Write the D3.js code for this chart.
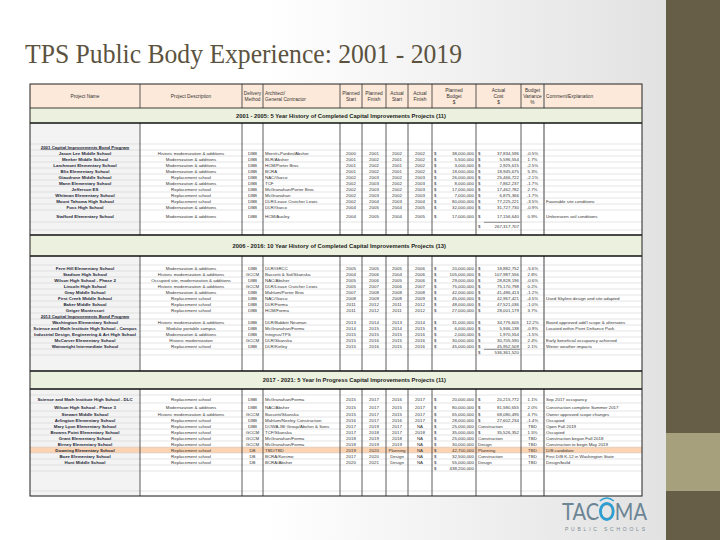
<!DOCTYPE html>
<meta charset="utf-8">
<style>
body { margin: 0; background: #fff; }
svg text { font-family: "Liberation Sans", Arial, sans-serif; }
</style>
<body>
<script src="https://cdn.jsdelivr.net/npm/d3@7"></script>
<script>

// ---- data ----
const sectionTitles = [
  "2001 - 2005: 5 Year History of Completed Capital Improvements Projects (11)",
  "2006 - 2016: 10 Year History of Completed Capital Improvements Projects (13)",
  "2017 - 2021: 5 Year In Progress Capital Improvements Projects (11)"
];
const sectionSizes = [11, 13, 11];
const bondLabels = ["2001 Capital Improvements Bond Program", "2013 Capital Improvements Bond Program"];
const bondBefore = [0, 19];
const sectionTotals = [267317707, 536361520, 438200000];
const totalColumn = ["cost", "cost", "budget"];

const projectNames = [
  "Jason Lee Middle School", "Meeker Middle School", "Larchmont Elementary School", "Blix Elementary School",
  "Giaudrone Middle School", "Mann Elementary School", "Jefferson ES", "Whitman Elementary School",
  "Mount Tahoma High School", "Foss High School", "Stafford Elementary School",
  "Fern Hill Elementary School", "Stadium High School", "Wilson High School - Phase 2", "Lincoln High School",
  "Gray Middle School", "First Creek Middle School", "Baker Middle School", "Geiger Montessori",
  "Washington Elementary School", "Science and Math Institute High School - Campus",
  "Industrial Design, Engineering & Art High School", "McCarver Elementary School", "Wainwright Intermediate School",
  "Science and Math Institute High School - DLC", "Wilson High School - Phase 3", "Stewart Middle School",
  "Arlington Elementary School", "Mary Lyon Elementary School", "Browns Point Elementary School",
  "Grant Elementary School", "Birney Elementary School", "Downing Elementary School", "Boze Elementary School",
  "Hunt Middle School"
];
const descriptions = [
  "Historic modernization & additions", "Modernization & additions", "Modernization & additions", "Modernization & additions",
  "Replacement school", "Modernization & additions", "Replacement school", "Replacement school",
  "Replacement school", "Modernization & additions", "Modernization & additions",
  "Modernization & additions", "Historic modernization & additions", "Occupied site, modernization & additions",
  "Historic modernization & additions", "Modernization & additions", "Replacement school", "Replacement school",
  "Replacement school", "Historic modernization & additions", "Modular portable campus", "Modernization & additions",
  "Historic modernization", "Replacement school",
  "Replacement school", "Modernization & additions", "Historic modernization & additions", "Replacement school",
  "Replacement school", "Replacement school", "Replacement school", "Replacement school", "Replacement school",
  "Replacement school", "Replacement school"
];
const methods = [
  "DBB", "DBB", "DBB", "DBB", "DBB", "DBB", "DBB", "DBB", "DBB", "DBB", "DBB",
  "DBB", "GCCM", "DBB", "GCCM", "DBB", "DBB", "DBB", "DBB", "DBB", "DBB", "DBB", "GCCM", "DBB",
  "DBB", "DBB", "GCCM", "DBB", "DBB", "GCCM", "GCCM", "GCCM", "DB", "DB", "DB"
];
const contractors = [
  "Merritt+Pardini/Absher", "BLR/Absher", "HCM/Porter Bros", "BCRA", "NAC/Garco", "TCF",
  "McGranahan/Porter Bros", "McGranahan", "DLR/Lease Crutcher Lewis", "DLR/Garco", "HCM/Ausley",
  "DLR/GRCC", "Bassetti & Sol/Skanska", "NAC/Absher", "DLR/Lease Crutcher Lewis", "Mahlum/Porter Bros",
  "NAC/Garco", "DLR/Forma", "HCM/Forma", "DLR/Babbitt Neuman", "McGranahan/Forma", "Integrus/TPS",
  "DLR/Skanska", "DLR/Kirtley",
  "McGranahan/Forma", "NAC/Absher", "Bassetti/Skanska", "Mahlum/Neeley Construction",
  "DOWA-IBI Group/Absher & Sons", "TCF/Skanska", "McGranahan/Forma", "McGranahan/Forma", "TBD/TBD",
  "BCRA/Korsmo", "BCRA/Absher"
];
const plannedStart = [2000, 2001, 2001, 2001, 2002, 2002, 2002, 2002, 2002, 2004, 2004,
  2005, 2004, 2005, 2005, 2007, 2008, 2011, 2011, 2013, 2014, 2015, 2015, 2015,
  2015, 2015, 2015, 2016, 2017, 2017, 2018, 2018, 2019, 2017, 2020];
const plannedFinish = [2001, 2002, 2002, 2002, 2003, 2003, 2003, 2003, 2004, 2005, 2005,
  2005, 2006, 2006, 2007, 2008, 2009, 2012, 2012, 2014, 2015, 2015, 2016, 2016,
  2017, 2017, 2017, 2017, 2019, 2018, 2019, 2019, 2020, 2020, 2021];
const actualStart = [2002, 2001, 2001, 2001, 2002, 2002, 2002, 2002, 2003, 2004, 2004,
  2005, 2004, 2005, 2006, 2008, 2008, 2011, 2011, 2013, 2014, 2015, 2015, 2015,
  2016, 2015, 2015, 2016, 2017, 2017, 2018, 2019, "Planning", "Design", "Design"];
const actualFinish = [2002, 2002, 2002, 2002, 2003, 2003, 2003, 2003, 2004, 2005, 2005,
  2006, 2006, 2006, 2007, 2008, 2009, 2012, 2012, 2014, 2015, 2016, 2016, 2016,
  2017, 2017, 2017, 2017, "NA", 2018, "NA", "NA", "NA", "NA", "NA"];
const plannedBudget = [38000000, 5500000, 3000000, 18000000, 26000000, 8000000, 17000000, 7000000, 80000000, 32000000, 17000000,
  20000000, 105000000, 29000000, 75000000, 42000000, 45000000, 48000000, 27000000, 31000000, 6000000, 2000000, 30000000, 45000000,
  20000000, 80000000, 65000000, 28000000, 25000000, 35000000, 25000000, 30000000, 42700000, 32500000, 55000000];
const actualCost = [37834596, 5596554, 2925615, 18945675, 25466722, 7862237, 17462782, 6875366, 77225221, 31727730, 17156640,
  18882752, 107987556, 28828196, 75170798, 41486413, 42967421, 47521036, 28001179, 34776605, 5946138, 1970554, 30705590, 45952509,
  20215772, 81580655, 68080495, 27602234, "Construction", 35526352, "Construction", "Design", "Planning", "Construction", "Design"];
const variance = [-0.5, 1.7, -2.5, 5.3, -2.1, -1.7, 2.7, -1.7, -3.5, -0.9, 0.9,
  -5.6, 2.8, -0.6, 0.2, -1.2, -4.5, -1.0, 3.7, 12.2, -0.9, -1.5, 2.4, 2.1,
  1.1, 2.0, 4.7, -1.4, "TBD", 1.5, "TBD", "TBD", "TBD", "TBD", "TBD"];
const comments = ["", "", "", "", "", "", "", "", "Favorable site conditions", "", "Unforeseen soil conditions",
  "", "", "", "", "", "Used Skyline design and site adapted", "", "", "Board approved add'l scope & alternates",
  "Located within Point Defiance Park", "", "Early beneficial occupancy achieved", "Winter weather impacts",
  "Sep 2017 occupancy", "Construction complete Summer 2017", "Owner approved scope changes", "Occupied",
  "Open Fall 2019", "Occupied", "Construction began Fall 2018", "Construction to begin May 2019",
  "D/B candidate", "First D/B K-12 in Washington State", "Design/build"];
const highlightRow = 32;

const colKeys = ["name", "desc", "method", "arch", "ps", "pf", "as", "af", "budget", "cost", "variance", "comment"];
const headerLabels = [["Project Name"], ["Project Description"], ["Delivery", "Method"], ["Architect/", "General Contractor"],
  ["Planned", "Start"], ["Planned", "Finish"], ["Actual", "Start"], ["Actual", "Finish"],
  ["Planned", "Budget", "$"], ["Actual", "Cost", "$"], ["Budget", "Variance", "%"], ["Comment/Explanation"]];

// ---- layout ----
const W = 720, H = 540;
const colEdges = [30, 140, 242, 263, 340, 362, 386, 408, 432, 476, 521, 544, 642];
const tableLeft = colEdges[0], tableRight = colEdges[colEdges.length - 1];
const headTop = 84, headH = 24;

const x = d3.scaleOrdinal().domain(colKeys).range(colEdges.slice(0, -1));
const w = d3.scaleOrdinal().domain(colKeys).range(colKeys.map((k, i) => colEdges[i + 1] - colEdges[i]));
const fmt = d3.format(",");

const bandH = [15, 21, 18], leadH = [21, 9, 6], trailH = [5, 16, 0];
const tallRows = {10: 12, 24: 8, 25: 8};

let yy = headTop + headH, idx = 0;
const layout = [];
sectionTitles.forEach((t, s) => {
  layout.push({type: "band", s, y: yy, h: bandH[s]}); yy += bandH[s];
  layout.push({type: "blank", y: yy, h: leadH[s]}); yy += leadH[s];
  for (let k = 0; k < sectionSizes[s]; k++, idx++) {
    const b = bondBefore.indexOf(idx);
    if (b >= 0) { layout.push({type: "bond", text: bondLabels[b], y: yy, h: 6}); yy += 6; }
    const h = tallRows[idx] || 6;
    layout.push({type: "project", i: idx, y: yy, h}); yy += h;
  }
  const th = s === 0 ? 8 : 6;
  layout.push({type: "total", s, y: yy, h: th}); yy += th;
  if (trailH[s]) { layout.push({type: "blank", y: yy, h: trailH[s]}); yy += trailH[s]; }
});
layout.push({type: "blank", y: yy, h: 20}); yy += 20;
layout.push({type: "blank", y: yy, h: 5}); yy += 5;
const tableBottom = yy;

const svg = d3.select("body").append("svg")
  .attr("width", W).attr("height", H);

// background gradient + theme bar
const defs = svg.append("defs");
const grad = defs.append("linearGradient").attr("id", "bg").attr("x1", 0).attr("x2", 1).attr("y1", 0).attr("y2", 0);
grad.append("stop").attr("offset", 0).attr("stop-color", "#ffffff");
grad.append("stop").attr("offset", 0.4).attr("stop-color", "#ffffff");
grad.append("stop").attr("offset", 1).attr("stop-color", "#e2e2e2");
svg.append("rect").attr("width", 666).attr("height", H).attr("fill", "url(#bg)");
svg.append("rect").attr("x", 666).attr("width", W - 666).attr("height", H).attr("fill", "#675e48");
svg.append("rect").attr("x", 666).attr("y", 433).attr("width", W - 666).attr("height", 58).attr("fill", "#a6a07c");

svg.append("text")
  .attr("x", 25).attr("y", 63)
  .style("font-family", "'Liberation Serif', 'DejaVu Serif', serif")
  .style("font-size", "27px")
  .attr("fill", "#5b5340")
  .attr("textLength", 437).attr("lengthAdjust", "spacingAndGlyphs")
  .text("TPS Public Body Experience: 2001 - 2019");

const tbl = svg.append("g");

// cell backgrounds
tbl.append("rect").attr("x", tableLeft).attr("y", headTop).attr("width", tableRight - tableLeft).attr("height", tableBottom - headTop).attr("fill", "#fff");
tbl.append("rect").attr("x", tableLeft).attr("y", headTop).attr("width", tableRight - tableLeft).attr("height", headH).attr("fill", "#fde9d9");
tbl.selectAll(".namebg").data(layout.filter(d => d.type !== "band"))
  .enter().append("rect")
  .attr("x", x("name")).attr("y", d => d.y).attr("width", w("name")).attr("height", d => d.h)
  .attr("fill", "#f3f3f3");
tbl.selectAll(".hl").data(layout.filter(d => d.type === "project" && d.i === highlightRow))
  .enter().append("rect")
  .attr("x", tableLeft).attr("y", d => d.y).attr("width", tableRight - tableLeft).attr("height", d => d.h)
  .attr("fill", "#fbd4b4");

// row rules
tbl.selectAll(".rule").data(layout.filter(d => d.type !== "band"))
  .enter().append("line")
  .attr("x1", tableLeft).attr("x2", tableRight)
  .attr("y1", d => d.y + d.h).attr("y2", d => d.y + d.h)
  .attr("stroke", "#c9c9c9").attr("stroke-width", 0.5);

// column rules
tbl.selectAll(".vrule").data(colKeys.slice(1))
  .enter().append("line")
  .attr("x1", d => x(d)).attr("x2", d => x(d))
  .attr("y1", headTop).attr("y2", tableBottom)
  .attr("stroke", d => d === "comment" ? "#777" : "#333")
  .attr("stroke-width", d => d === "comment" ? 1.4 : 0.8);

// section bands
const bands = layout.filter(d => d.type === "band");
tbl.selectAll(".band").data(bands).enter().append("rect")
  .attr("x", tableLeft).attr("y", d => d.y).attr("width", tableRight - tableLeft).attr("height", d => d.h)
  .attr("fill", "#ebf1de");
tbl.selectAll(".bandtop").data(bands).enter().append("line")
  .attr("x1", tableLeft).attr("x2", tableRight).attr("y1", d => d.y).attr("y2", d => d.y)
  .attr("stroke", "#111").attr("stroke-width", d => d.s === 0 ? 0.8 : 1.6);
tbl.selectAll(".bandbot").data(bands).enter().append("line")
  .attr("x1", tableLeft).attr("x2", tableRight).attr("y1", d => d.y + d.h).attr("y2", d => d.y + d.h)
  .attr("stroke", "#111").attr("stroke-width", 1.6);
tbl.selectAll(".bandtext").data(bands).enter().append("text")
  .attr("x", 446).attr("y", d => d.y + d.h / 2 + 2.1)
  .attr("text-anchor", "end")
  .style("font-size", "5.8px").style("font-weight", "bold")
  .attr("fill", "#1b1b1b")
  .text(d => sectionTitles[d.s]);

// header labels
colKeys.forEach((k, ci) => {
  const lines = headerLabels[ci];
  const left = k === "arch" || k === "comment";
  const t = tbl.append("text")
    .attr("x", left ? x(k) + 2 : x(k) + w(k) / 2)
    .attr("text-anchor", left ? "start" : "middle")
    .style("font-size", "4.8px").attr("fill", "#333");
  const y0 = headTop + headH / 2 - (lines.length - 1) * 2.9 + 1.7;
  lines.forEach((s, li) => t.append("tspan").attr("x", left ? x(k) + 2 : x(k) + w(k) / 2).attr("y", y0 + li * 5.8).text(s));
});

// body cells
const cells = [];
function put(k, yMid, str, align, extra) {
  cells.push(Object.assign({k, yMid, str: String(str), align}, extra || {}));
}
layout.forEach(d => {
  const ym = d.y + d.h / 2;
  if (d.type === "bond") put("name", ym, d.text, "middle", {bold: true, underline: true});
  if (d.type === "total") {
    const k = totalColumn[d.s];
    put(k, ym, "$", "start");
    put(k, ym, fmt(sectionTotals[d.s]), "end");
    if (k === "cost") cells.push({k, rule: true, yMid: d.y});
  }
  if (d.type !== "project") return;
  const i = d.i;
  put("name", ym, projectNames[i], "middle", {bold: true});
  put("desc", ym, descriptions[i], "middle");
  put("method", ym, methods[i], "middle");
  put("arch", ym, contractors[i], "start");
  put("ps", ym, plannedStart[i], "middle");
  put("pf", ym, plannedFinish[i], "middle");
  put("as", ym, actualStart[i], "middle");
  put("af", ym, actualFinish[i], "middle");
  put("budget", ym, "$", "start");
  put("budget", ym, fmt(plannedBudget[i]), "end");
  if (typeof actualCost[i] === "number") {
    put("cost", ym, "$", "start");
    put("cost", ym, fmt(actualCost[i]), "end");
  } else put("cost", ym, actualCost[i], "start");
  const v = variance[i];
  put("variance", ym, typeof v === "number" ? v.toFixed(1) + "%" : v, "middle");
  if (comments[i]) put("comment", ym, comments[i], "start");
});

tbl.selectAll(".cellrule").data(cells.filter(c => c.rule)).enter().append("line")
  .attr("x1", d => x(d.k) + 8).attr("x2", d => x(d.k) + w(d.k) - 1)
  .attr("y1", d => d.yMid + 0.3).attr("y2", d => d.yMid + 0.3)
  .attr("stroke", "#222").attr("stroke-width", 0.5);

const tx = d => d.align === "start" ? x(d.k) + 2 : d.align === "end" ? x(d.k) + w(d.k) - 2 : x(d.k) + w(d.k) / 2;
tbl.selectAll(".cell").data(cells.filter(c => !c.rule)).enter().append("text")
  .attr("x", tx)
  .attr("y", d => d.yMid + 1.55)
  .attr("text-anchor", d => d.align)
  .style("font-size", "4.4px")
  .style("font-weight", d => d.bold ? "bold" : "normal")
  .style("text-decoration", d => d.underline ? "underline" : "none")
  .attr("fill", d => d.bold ? "#1c2433" : "#333")
  .text(d => d.str)
  .each(function(d) {
    const maxW = w(d.k) - 3;
    if (this.getComputedTextLength() > maxW) {
      d3.select(this).attr("textLength", maxW).attr("lengthAdjust", "spacingAndGlyphs");
    }
  });

// outer border
tbl.append("rect").attr("x", tableLeft).attr("y", headTop)
  .attr("width", tableRight - tableLeft).attr("height", tableBottom - headTop)
  .attr("fill", "none").attr("stroke", "#222").attr("stroke-width", 1);

// logo: one word, with a blue ring laid over its O
const logo = svg.append("text").attr("x", 562).attr("y", 520)
  .style("font-family", "Lato, 'Open Sans', sans-serif").style("font-size", "24px")
  .attr("textLength", 85).attr("lengthAdjust", "spacingAndGlyphs")
  .attr("fill", "#6c8595")
  .text("TACOMA");
const oBox = logo.node().getExtentOfChar(3);
svg.append("ellipse")
  .attr("cx", oBox.x + oBox.width / 2).attr("cy", 520 - 8.6)
  .attr("rx", oBox.width / 2 - 1.6).attr("ry", 8.2)
  .attr("fill", "none").attr("stroke", "#2c9fd4").attr("stroke-width", 2.6);
svg.append("path")
  .attr("d", `M${oBox.x + 1},${520 - 19} Q${oBox.x + oBox.width / 2},${520 - 25} ${oBox.x + oBox.width - 1},${520 - 19}`)
  .attr("fill", "none").attr("stroke", "#2c9fd4").attr("stroke-width", 1.4);
svg.append("text").attr("x", 565).attr("y", 531)
  .style("font-size", "5px").attr("fill", "#7b8b95")
  .attr("textLength", 80).attr("lengthAdjust", "spacing")
  .text("PUBLIC SCHOOLS");

</script>
</body>
